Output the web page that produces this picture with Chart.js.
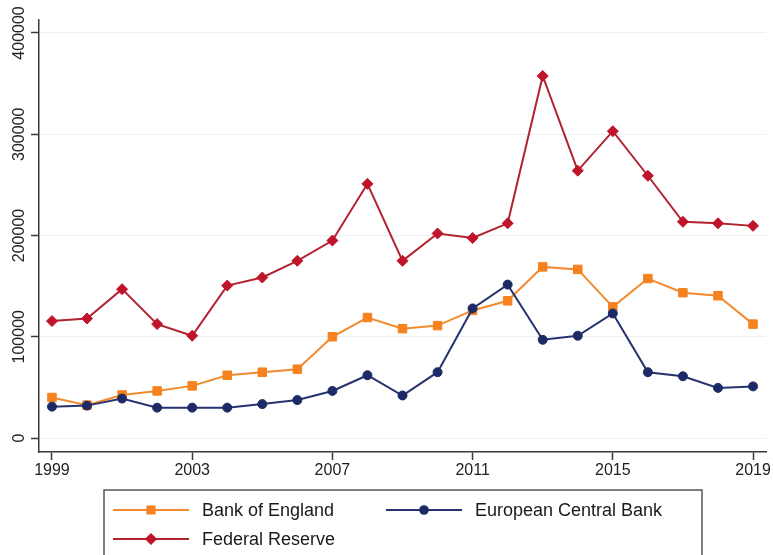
<!DOCTYPE html>
<html>
<head>
<meta charset="utf-8">
<script src="https://cdn.jsdelivr.net/npm/chart.js@4/dist/chart.umd.min.js"></script>
<style>
  html, body { margin: 0; padding: 0; background: #fff; }
</style>
</head>
<body>
<canvas id="chart" width="773" height="555"></canvas>
<script>
const years = [1999, 2000, 2001, 2002, 2003, 2004, 2005, 2006, 2007, 2008, 2009,
               2010, 2011, 2012, 2013, 2014, 2015, 2016, 2017, 2018, 2019];
const bankOfEngland = [40000, 32500, 42500, 46500, 51500, 62000, 65000, 68000, 100000, 119000, 108000,
                       111000, 126000, 135500, 169000, 166500, 129500, 157500, 143500, 140500, 112500];
const europeanCentralBank = [31000, 32000, 39000, 30000, 30000, 30000, 33500, 37500, 46500, 62000, 42000,
                             65000, 128000, 151500, 97000, 101000, 123000, 65000, 61000, 49500, 51000];
const federalReserve = [115500, 118000, 147000, 112500, 101000, 150500, 158500, 175000, 195000, 251000, 175000,
                        202000, 197500, 212000, 357500, 264000, 303000, 259000, 213500, 212000, 209500];
const seriesNames = ['Bank of England', 'European Central Bank', 'Federal Reserve'];
const xTicks = [1999, 2003, 2007, 2011, 2015, 2019];
const yTicks = [0, 100000, 200000, 300000, 400000];

const fontFamily = '"Liberation Sans", Arial, Helvetica, sans-serif';
Chart.defaults.font.family = fontFamily;
Chart.defaults.color = '#222';

// y labels are turned on their side; work out padding so they sit centred left of the ticks
const measure = document.createElement('canvas').getContext('2d');
measure.font = '16px ' + fontFamily;
const widestY = measure.measureText('400000').width;
const yLabelPad = 39 - 8 - 20 - widestY / 2;

const toPoints = vals => vals.map((v, i) => ({ x: years[i], y: v }));

// stata-like boxed legend: line + marker + label, two columns
const boxLegend = {
    id: 'boxLegend',
    afterDraw(chart) {
        const ctx = chart.ctx;
        const cols = [113, 386];
        const rows = [510, 539];
        ctx.save();
        ctx.strokeStyle = '#555';
        ctx.lineWidth = 1.5;
        ctx.strokeRect(104, 490, 598, 100);
        chart.data.datasets.forEach((ds, i) => {
            const x = cols[i % 2];
            const y = rows[Math.floor(i / 2)];
            ctx.strokeStyle = ds.borderColor;
            ctx.lineWidth = 2;
            ctx.beginPath();
            ctx.moveTo(x, y);
            ctx.lineTo(x + 76, y);
            ctx.stroke();
            ctx.fillStyle = ds.pointBackgroundColor;
            ctx.strokeStyle = ds.pointBackgroundColor;
            Chart.helpers.drawPoint(ctx, {
                pointStyle: ds.pointStyle,
                radius: ds.pointRadius * 0.85,
                rotation: 0,
                borderWidth: 1
            }, x + 38, y);
            ctx.fillStyle = '#1a1a1a';
            ctx.font = '18px ' + fontFamily;
            ctx.textAlign = 'left';
            ctx.textBaseline = 'middle';
            ctx.fillText(ds.label, x + 89, y + 1);
        });
        ctx.restore();
    }
};

const ctx = document.getElementById('chart').getContext('2d');
new Chart(ctx, {
    type: 'line',
    data: {
        datasets: [
            {
                label: seriesNames[0],
                data: toPoints(bankOfEngland),
                borderColor: '#f28a2e',
                borderWidth: 2,
                pointStyle: 'rect',
                pointRadius: 6,
                pointBackgroundColor: '#f5821f',
                pointBorderColor: '#f5821f',
                pointBorderWidth: 1,
                order: 2
            },
            {
                label: seriesNames[1],
                data: toPoints(europeanCentralBank),
                borderColor: '#27336e',
                borderWidth: 2,
                pointStyle: 'circle',
                pointRadius: 4.5,
                pointBackgroundColor: '#1d2a66',
                pointBorderColor: '#1d2a66',
                pointBorderWidth: 1,
                order: 1
            },
            {
                label: seriesNames[2],
                data: toPoints(federalReserve),
                borderColor: '#b3222f',
                borderWidth: 2,
                pointStyle: 'rectRot',
                pointRadius: 5.5,
                pointBackgroundColor: '#c0142b',
                pointBorderColor: '#c0142b',
                pointBorderWidth: 1,
                order: 3
            }
        ]
    },
    options: {
        responsive: false,
        animation: false,
        events: [],
        layout: { padding: { top: 20, right: 6, bottom: 68, left: 0 } },
        plugins: {
            legend: { display: false },
            tooltip: { enabled: false }
        },
        scales: {
            x: {
                type: 'linear',
                min: 1998.63,
                max: 2019.37,
                afterBuildTicks: s => { s.ticks = xTicks.map(v => ({ value: v })); },
                afterFit: s => { s.height = 35; },
                border: { display: true, color: '#3a3a3a', width: 1.5 },
                grid: { drawOnChartArea: false, drawTicks: true, tickLength: 8, tickColor: '#3a3a3a', tickWidth: 1.5 },
                ticks: {
                    padding: 1,
                    color: '#222',
                    font: { size: 16 },
                    maxRotation: 0,
                    autoSkip: false,
                    callback: v => String(v)
                }
            },
            y: {
                min: -13800,
                max: 412800,
                afterBuildTicks: s => { s.ticks = yTicks.map(v => ({ value: v })); },
                afterFit: s => { s.width = 39; },
                border: { display: true, color: '#3a3a3a', width: 1.5 },
                grid: { color: '#eceff3', lineWidth: 1, drawTicks: true, tickLength: 8, tickColor: '#3a3a3a', tickWidth: 1.5 },
                ticks: {
                    minRotation: 90,
                    maxRotation: 90,
                    crossAlign: 'center',
                    padding: yLabelPad,
                    color: '#222',
                    font: { size: 16 },
                    autoSkip: false,
                    callback: v => String(v)
                }
            }
        }
    },
    plugins: [boxLegend]
});
</script>
</body>
</html>
